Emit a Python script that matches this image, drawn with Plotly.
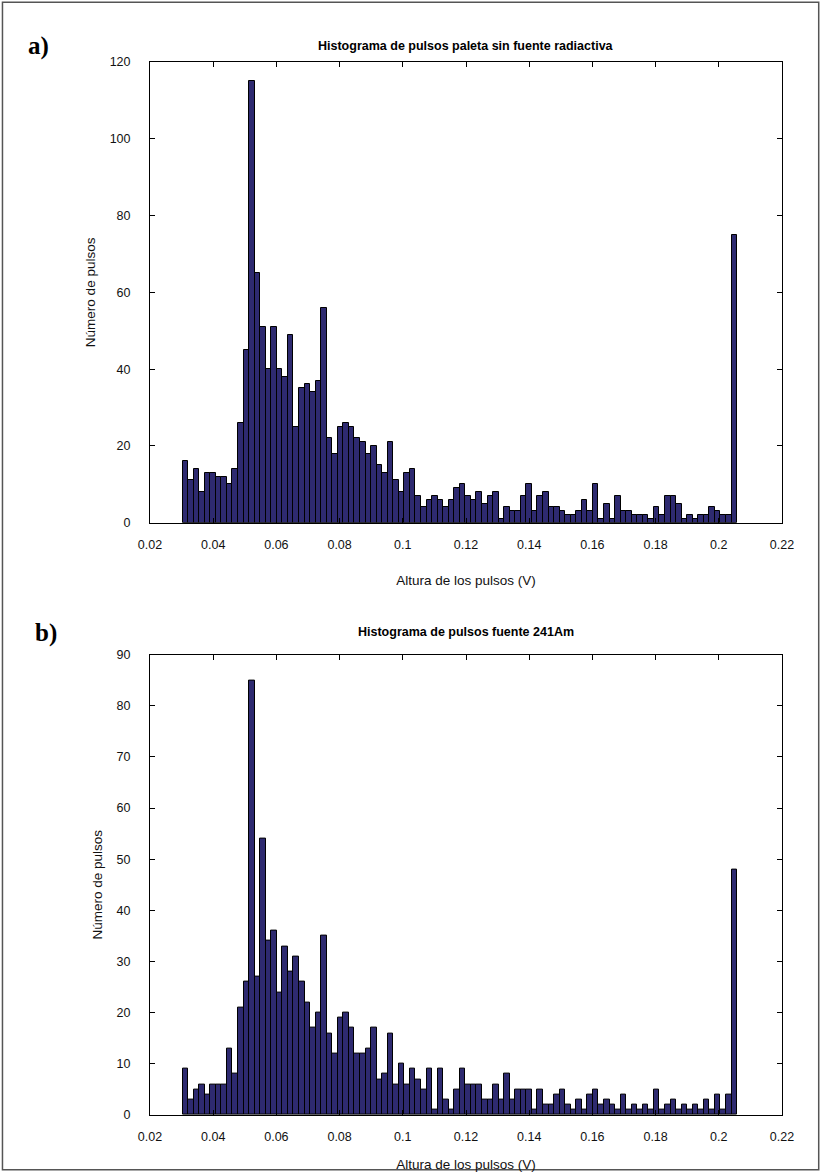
import plotly.graph_objects as go

# Histogram bin definition (100 bins)
BIN_START = 0.0303
BIN_WIDTH = 0.001755

counts_a = [16, 11, 14, 8, 13, 13, 12, 12, 10, 14, 26, 45,
            115, 65, 51, 40, 51, 40, 38, 49,
            25, 35, 36, 34, 37, 56, 22, 18, 25, 26,
            25, 22, 21, 18, 20, 15, 13, 21, 11, 8,
            13, 14, 7, 4, 6, 7, 6, 4, 6, 9,
            10, 7, 6, 8, 5, 7, 8, 1, 4, 3,
            3, 7, 10, 3, 7, 8, 4, 4, 3, 2,
            2, 3, 6, 3, 10, 1, 5, 1, 7, 3,
            3, 2, 2, 2, 1, 4, 2, 7, 7, 5,
            1, 2, 1, 2, 2, 4, 3, 2, 2, 75]

counts_b = [9, 3, 5, 6, 4, 6, 6, 6, 13, 8, 21, 26,
            85, 27, 54, 34, 36, 24, 33, 28, 31, 26, 22, 17,
            20, 35, 16, 12, 19, 20, 17, 12, 12, 13, 17,
            7, 8, 16, 6, 10, 6, 9, 7, 5, 9,
            1, 9, 3, 1, 5, 9, 6, 6, 6, 3,
            3, 6, 3, 8, 3, 5, 5, 5, 1, 5,
            2, 2, 4, 5, 2, 1, 3, 1, 4, 5,
            2, 3, 2, 1, 4, 1, 2, 1, 2, 1,
            5, 1, 2, 3, 1, 2, 1, 2, 1, 3,
            1, 4, 1, 4, 48]

x_ticks = [0.02, 0.04, 0.06, 0.08, 0.10, 0.12, 0.14, 0.16, 0.18, 0.20, 0.22]
x_tick_labels = ["0.02", "0.04", "0.06", "0.08", "0.1", "0.12", "0.14", "0.16", "0.18", "0.2", "0.22"]
y_ticks_a = [0, 20, 40, 60, 80, 100, 120]
y_ticks_b = [0, 10, 20, 30, 40, 50, 60, 70, 80, 90]

title_a = "Histograma de pulsos paleta sin fuente radiactiva"
title_b = "Histograma de pulsos fuente 241Am"
x_title = "Altura de los pulsos (V)"
y_title = "Número de pulsos"

W, H = 822, 1172
FONT = "Liberation Sans, Arial, sans-serif"
SERIF = "Liberation Serif, Times New Roman, serif"
BAR_FILL = "#2e2a70"

def centers(n):
    return [BIN_START + (i + 0.5) * BIN_WIDTH for i in range(n)]

fig = go.Figure()
fig.add_trace(go.Bar(x=centers(len(counts_a)), y=counts_a, width=BIN_WIDTH,
                     marker=dict(color=BAR_FILL, line=dict(color="black", width=1)),
                     xaxis="x", yaxis="y", showlegend=False))
fig.add_trace(go.Bar(x=centers(len(counts_b)), y=counts_b, width=BIN_WIDTH,
                     marker=dict(color=BAR_FILL, line=dict(color="black", width=1)),
                     xaxis="x2", yaxis="y2", showlegend=False))

def px_x(p):
    return p / W

def px_y(p):
    return 1 - p / H

axis_common = dict(showline=True, linecolor="black", linewidth=1, mirror="ticks",
                   ticks="inside", ticklen=5, tickcolor="black", showgrid=False,
                   zeroline=False, automargin=False,
                   tickfont=dict(family=FONT, size=12.5, color="#111111"))

xaxis_extra = dict(ticklabelstandoff=10,
                   title=dict(text=x_title, font=dict(family=FONT, size=13.5, color="#111111"), standoff=24))
yaxis_extra = dict(ticklabelstandoff=16,
                   title=dict(text=y_title, font=dict(family=FONT, size=13.5, color="#111111"), standoff=10))

def ann(text, x, y, font):
    return dict(text=text, x=px_x(x), y=px_y(y), xref="paper", yref="paper",
                xanchor="center", yanchor="middle", showarrow=False, font=font)

fig.update_layout(
    width=W, height=H, autosize=False, margin=dict(l=0, r=0, t=0, b=0, pad=0, autoexpand=False),
    paper_bgcolor="white", plot_bgcolor="white", bargap=0,
    xaxis=dict(domain=[px_x(150), px_x(782)], range=[0.02, 0.22], tickvals=x_ticks,
               ticktext=x_tick_labels, anchor="y", **axis_common, **xaxis_extra),
    yaxis=dict(domain=[px_y(522.7), px_y(62)], range=[0, 120], tickvals=y_ticks_a, anchor="x",
               **axis_common, **yaxis_extra),
    xaxis2=dict(domain=[px_x(150), px_x(782)], range=[0.02, 0.22], tickvals=x_ticks,
                ticktext=x_tick_labels, anchor="y2", **axis_common, **xaxis_extra),
    yaxis2=dict(domain=[px_y(1115), px_y(654.6)], range=[0, 90], tickvals=y_ticks_b, anchor="x2",
                **axis_common, **yaxis_extra),
    annotations=[
        ann("<b>" + title_a + "</b>", 466, 46, dict(family=FONT, size=12.5, color="black")),
        ann("<b>" + title_b + "</b>", 466, 632, dict(family=FONT, size=12.5, color="black")),
        ann("<b>a)</b>", 38, 46, dict(family=SERIF, size=25, color="black")),
        ann("<b>b)</b>", 46, 633, dict(family=SERIF, size=25, color="black")),
    ],
    shapes=[dict(type="rect", xref="paper", yref="paper", x0=0.003, x1=0.996, y0=0.002, y1=0.998,
                 line=dict(color="#555555", width=1.5))],
)

fig.write_html("out.html", config={"displayModeBar": False},
               post_script="document.body.style.margin='0';document.body.style.padding='0';"
                           "document.documentElement.style.overflow='hidden';")
